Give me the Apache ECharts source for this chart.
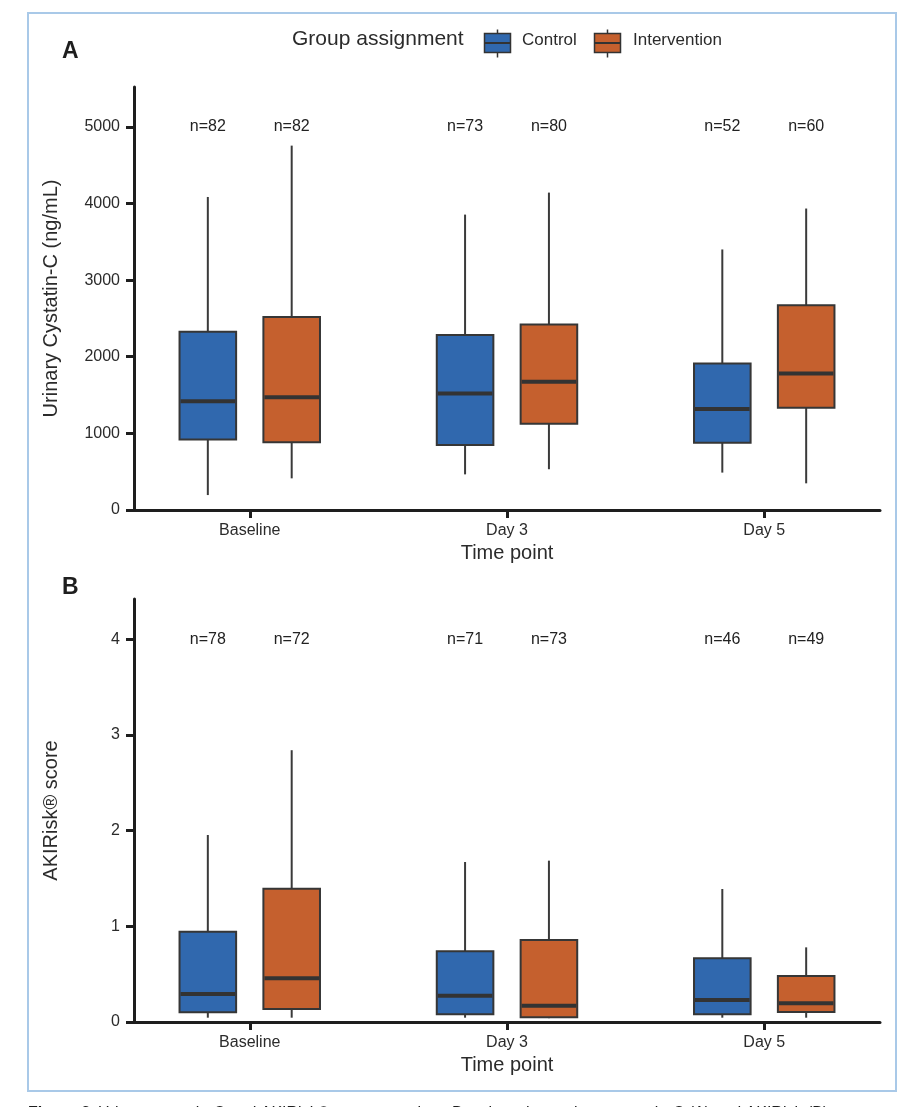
<!DOCTYPE html>
<html>
<head>
<meta charset="utf-8">
<script src="https://cdn.jsdelivr.net/npm/echarts@6/dist/echarts.min.js"></script>
<style>
html,body{margin:0;padding:0;background:#fff;}
#chart{width:919px;height:1107px;}
</style>
</head>
<body>
<div id="chart"></div>
<script>
// ---------- DATA ----------
const categories = ['Baseline', 'Day 3', 'Day 5'];
const groupNames = ['Control', 'Intervention'];

// Panel A: Urinary Cystatin-C (ng/mL) — [lower whisker, Q1, median, Q3, upper whisker]
const cysControl      = [[195, 920, 1420, 2325, 4085], [465, 848, 1521, 2285, 3855], [488, 878, 1317, 1913, 3400]];
const cysIntervention = [[413, 883, 1470, 2520, 4755], [532, 1125, 1673, 2421, 4142], [348, 1334, 1782, 2673, 3934]];
const cysNControl      = [82, 73, 52];
const cysNIntervention = [82, 80, 60];
const cysTicks = [0, 1000, 2000, 3000, 4000, 5000];

// Panel B: AKIRisk score — [lower whisker, Q1, median, Q3, upper whisker]
const akiControl      = [[0.045, 0.101, 0.293, 0.944, 1.954], [0.045, 0.080, 0.275, 0.740, 1.672], [0.045, 0.080, 0.230, 0.666, 1.390]];
const akiIntervention = [[0.045, 0.136, 0.456, 1.393, 2.840], [0.040, 0.049, 0.170, 0.857, 1.686], [0.045, 0.104, 0.195, 0.480, 0.780]];
const akiNControl      = [78, 71, 46];
const akiNIntervention = [72, 73, 49];
const akiTicks = [0, 1, 2, 3, 4];

// ---------- STYLE / LAYOUT ----------
const FONT = '"Liberation Sans", Arial, Helvetica, sans-serif';
const COLORS = ['#3068ae', '#c5602e'];
const DODGE = 0.163;
const BOX_W = 0.22;
const TEXT = '#2b2b2b';

function boxRenderer(color) {
  return function (params, api) {
    const x = api.value(0);
    const half = api.size([BOX_W, 0])[0] / 2;
    const pLow = api.coord([x, api.value(1)]);
    const pQ1 = api.coord([x, api.value(2)]);
    const pMed = api.coord([x, api.value(3)]);
    const pQ3 = api.coord([x, api.value(4)]);
    const pHigh = api.coord([x, api.value(5)]);
    const cx = pMed[0];
    const ws = { stroke: '#3a3a3a', lineWidth: 2 };
    return {
      type: 'group',
      children: [
        { type: 'line', shape: { x1: cx, y1: pHigh[1], x2: cx, y2: pQ3[1] }, style: ws },
        { type: 'line', shape: { x1: cx, y1: pQ1[1], x2: cx, y2: pLow[1] }, style: ws },
        { type: 'rect', shape: { x: cx - half, y: pQ3[1], width: half * 2, height: pQ1[1] - pQ3[1] },
          style: { fill: color, stroke: '#363636', lineWidth: 2 } },
        { type: 'line', shape: { x1: cx - half + 1, y1: pMed[1], x2: cx + half - 1, y2: pMed[1] },
          style: { stroke: '#333', lineWidth: 4 } }
      ]
    };
  };
}

function boxData(arr, offset) {
  return arr.map((v, i) => [i + 1 + offset].concat(v));
}
function nData(arr, offset, yVal) {
  return arr.map((n, i) => ({ value: [i + 1 + offset, yVal], n: n }));
}

function xAxisCfg(gridIndex) {
  return {
    type: 'value', gridIndex: gridIndex, min: 0.55, max: 3.45,
    name: 'Time point', nameLocation: 'middle', nameGap: 33,
    nameTextStyle: { fontFamily: FONT, fontSize: 20, color: TEXT },
    splitLine: { show: false },
    axisLine: { show: true, lineStyle: { color: '#1e1e1e', width: 3 } },
    axisTick: { show: true, length: 8, lineStyle: { color: '#1e1e1e', width: 3 }, customValues: [1, 2, 3] },
    axisLabel: { fontFamily: FONT, fontSize: 16, color: TEXT, margin: 13,
      customValues: [1, 2, 3], formatter: v => categories[Math.round(v) - 1] }
  };
}
function yAxisCfg(gridIndex, max, ticks, name) {
  return {
    type: 'value', gridIndex: gridIndex, min: 0, max: max,
    name: name, nameLocation: 'middle', nameGap: 73,
    nameTextStyle: { fontFamily: FONT, fontSize: 20, color: TEXT },
    splitLine: { show: false },
    axisLine: { show: true, onZero: false, lineStyle: { color: '#1e1e1e', width: 3 } },
    axisTick: { show: true, length: 8, lineStyle: { color: '#1e1e1e', width: 3 }, customValues: ticks },
    axisLabel: { fontFamily: FONT, fontSize: 16, color: TEXT, margin: 14, customValues: ticks,
      formatter: v => String(v) }
  };
}

const nLabelStyle = {
  show: true, position: 'inside', formatter: p => 'n=' + p.data.n,
  fontFamily: FONT, fontSize: 16, color: '#222', opacity: 1, textBorderWidth: 0
};

const chart = echarts.init(document.getElementById('chart'), null, { renderer: 'canvas' });
chart.setOption({
  backgroundColor: '#ffffff',
  animation: false,
  grid: [
    { left: 134, right: 39, top: 87, height: 423 },
    { left: 134, right: 39, top: 599, height: 423 }
  ],
  xAxis: [xAxisCfg(0), xAxisCfg(1)],
  yAxis: [
    yAxisCfg(0, 5520, cysTicks, 'Urinary Cystatin-C (ng/mL)'),
    yAxisCfg(1, 4.42, akiTicks, 'AKIRisk® score')
  ],
  series: [
    { name: groupNames[0], type: 'custom', xAxisIndex: 0, yAxisIndex: 0, renderItem: boxRenderer(COLORS[0]),
      encode: { x: 0, y: [1, 2, 3, 4, 5] }, data: boxData(cysControl, -DODGE) },
    { name: groupNames[1], type: 'custom', xAxisIndex: 0, yAxisIndex: 0, renderItem: boxRenderer(COLORS[1]),
      encode: { x: 0, y: [1, 2, 3, 4, 5] }, data: boxData(cysIntervention, DODGE) },
    { name: groupNames[0], type: 'custom', xAxisIndex: 1, yAxisIndex: 1, renderItem: boxRenderer(COLORS[0]),
      encode: { x: 0, y: [1, 2, 3, 4, 5] }, data: boxData(akiControl, -DODGE) },
    { name: groupNames[1], type: 'custom', xAxisIndex: 1, yAxisIndex: 1, renderItem: boxRenderer(COLORS[1]),
      encode: { x: 0, y: [1, 2, 3, 4, 5] }, data: boxData(akiIntervention, DODGE) },
    { type: 'scatter', xAxisIndex: 0, yAxisIndex: 0, symbolSize: 1, itemStyle: { color: 'rgba(0,0,0,0)' },
      label: nLabelStyle, silent: true,
      data: nData(cysNControl, -DODGE, 5000).concat(nData(cysNIntervention, DODGE, 5000)) },
    { type: 'scatter', xAxisIndex: 1, yAxisIndex: 1, symbolSize: 1, itemStyle: { color: 'rgba(0,0,0,0)' },
      label: nLabelStyle, silent: true,
      data: nData(akiNControl, -DODGE, 4).concat(nData(akiNIntervention, DODGE, 4)) }
  ],
  graphic: [
    { type: 'rect', shape: { x: 28, y: 13, width: 868, height: 1078 },
      style: { fill: 'none', stroke: '#a9c9e8', lineWidth: 2 }, z: 0 },
    { type: 'text', left: 62, top: 40, style: { text: 'A', font: 'bold 23px ' + FONT, fill: '#1e1e1e' } },
    { type: 'text', left: 62, top: 576, style: { text: 'B', font: 'bold 23px ' + FONT, fill: '#1e1e1e' } },
    // legend
    { type: 'text', left: 292, top: 29, style: { text: 'Group assignment', font: '21px ' + FONT, fill: TEXT } },
    { type: 'group', left: 482, top: 27, children: [
      { type: 'line', shape: { x1: 13, y1: 0, x2: 13, y2: 28 }, style: { stroke: '#333', lineWidth: 1.5 } },
      { type: 'rect', shape: { x: 0, y: 4, width: 26, height: 19 }, style: { fill: COLORS[0], stroke: '#333', lineWidth: 1.5 } },
      { type: 'line', shape: { x1: 0, y1: 13.5, x2: 26, y2: 13.5 }, style: { stroke: '#333', lineWidth: 2 } }
    ] },
    { type: 'text', left: 522, top: 32, style: { text: groupNames[0], font: '17px ' + FONT, fill: TEXT } },
    { type: 'group', left: 592, top: 27, children: [
      { type: 'line', shape: { x1: 13, y1: 0, x2: 13, y2: 28 }, style: { stroke: '#333', lineWidth: 1.5 } },
      { type: 'rect', shape: { x: 0, y: 4, width: 26, height: 19 }, style: { fill: COLORS[1], stroke: '#333', lineWidth: 1.5 } },
      { type: 'line', shape: { x1: 0, y1: 13.5, x2: 26, y2: 13.5 }, style: { stroke: '#333', lineWidth: 2 } }
    ] },
    { type: 'text', left: 633, top: 32, style: { text: groupNames[1], font: '17px ' + FONT, fill: TEXT } },
    // caption (cut off at page bottom)
    { type: 'text', left: 28, top: 1106, style: {
      rich: { b: { font: 'bold 16px ' + FONT, fill: '#1e1e1e' }, r: { font: '16px ' + FONT, fill: '#1e1e1e' } },
      text: '{b|Figure 3.} {r|Urinary cystatin-C and AKIRisk® score over time. Boxplots show urinary cystatin-C (A) and AKIRisk (B).}'
    } }
  ]
});
</script>
</body>
</html>
